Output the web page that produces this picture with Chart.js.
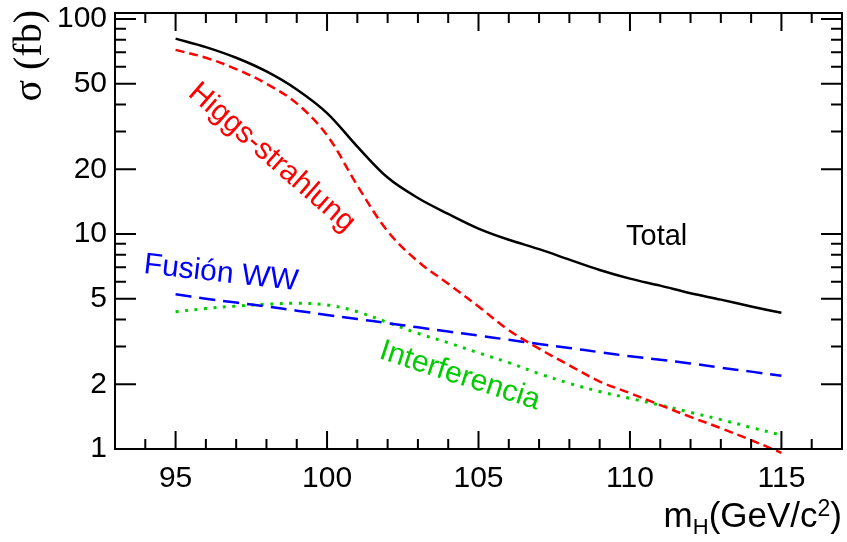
<!DOCTYPE html>
<html>
<head>
<meta charset="utf-8">
<script src="https://cdn.jsdelivr.net/npm/chart.js@4.4.0/dist/chart.umd.min.js"></script>
<style>
html, body { margin: 0; padding: 0; background: #fff; }
</style>
</head>
<body>
<canvas id="xsec" width="847" height="542"></canvas>
<script>
// Higgs mass points (GeV/c^2) and cross sections (fb)
const masses       = [95, 96, 97, 98, 99, 100, 101, 102, 103, 104, 105, 106, 107, 108, 109, 110, 111, 112, 113, 114, 115];
const total        = [81, 74, 66, 57, 47, 36.5, 25.5, 18.3, 14.7, 12.4, 10.6, 9.4, 8.5, 7.6, 6.8, 6.2, 5.75, 5.3, 4.95, 4.6, 4.3];
const strahlung    = [71.8, 66, 58.5, 50, 40.5, 28.8, 16.8, 10.3, 7.45, 5.87, 4.6, 3.57, 2.93, 2.45, 2.06, 1.82, 1.6, 1.41, 1.25, 1.1, 0.96];
const fusion       = [5.24, 5.0, 4.8, 4.6, 4.4, 4.2, 4.02, 3.85, 3.68, 3.52, 3.37, 3.22, 3.08, 2.95, 2.82, 2.7, 2.6, 2.5, 2.39, 2.29, 2.19];
const interference = [4.35, 4.5, 4.62, 4.71, 4.76, 4.68, 4.35, 3.88, 3.45, 3.12, 2.8, 2.52, 2.24, 2.02, 1.85, 1.72, 1.6, 1.48, 1.37, 1.26, 1.16];

const xTickLabels = [95, 100, 105, 110, 115];
const yTickLabels = [1, 2, 5, 10, 20, 50, 100];

const SANS = '"Liberation Sans", Arial, Helvetica, sans-serif';

function points(values) {
    return masses.map((m, i) => ({ x: m, y: values[i] }));
}

function curve(label, values, color, dash, width) {
    return {
        label: label,
        data: points(values),
        borderColor: color,
        borderWidth: width,
        borderDash: dash,
        pointRadius: 0,
        fill: false,
        tension: 0.35,
        clip: false
    };
}

function fixBox(width, height) {
    return scale => {
        if (width !== null) scale.width = width;
        if (height !== null) scale.height = height;
        scale.paddingTop = 0;
        scale.paddingBottom = 0;
        scale.paddingLeft = 0;
        scale.paddingRight = 0;
    };
}

// frame with inward ticks, curve labels and axis titles
const rootStyle = {
    id: 'rootStyle',
    afterDraw(chart) {
        const { ctx, chartArea: a, scales: { x, y } } = chart;
        ctx.save();
        ctx.strokeStyle = '#000';
        ctx.lineWidth = 2;
        ctx.beginPath();
        for (let m = 93; m <= 117; m++) {
            const px = x.getPixelForValue(m);
            const len = m % 5 === 0 ? 18 : 10;
            ctx.moveTo(px, a.bottom); ctx.lineTo(px, a.bottom - len);
            ctx.moveTo(px, a.top); ctx.lineTo(px, a.top + len);
        }
        [1, 10].forEach(dec => {
            for (let k = 1; k <= 9; k++) {
                const v = dec * k;
                const py = y.getPixelForValue(v);
                const len = yTickLabels.includes(v) ? 21 : 11;
                ctx.moveTo(a.left, py); ctx.lineTo(a.left + len, py);
                ctx.moveTo(a.right, py); ctx.lineTo(a.right - len, py);
            }
        });
        const p100 = y.getPixelForValue(100);
        ctx.moveTo(a.left, p100); ctx.lineTo(a.left + 21, p100);
        ctx.moveTo(a.right, p100); ctx.lineTo(a.right - 21, p100);
        ctx.stroke();
        ctx.strokeRect(a.left, a.top, a.right - a.left, a.bottom - a.top);

        const label = (text, color, px, py, deg, size) => {
            ctx.save();
            ctx.translate(px, py);
            ctx.rotate(deg * Math.PI / 180);
            ctx.fillStyle = color;
            ctx.font = size + 'px ' + SANS;
            ctx.textAlign = 'left';
            ctx.textBaseline = 'alphabetic';
            ctx.fillText(text, 0, 0);
            ctx.restore();
        };
        label('Total', '#000', 626, 245, 0, 29);
        label('Fusión WW', '#0000ff', 143, 273, 6.4, 30);
        label('Higgs-strahlung', '#ff0000', 187, 95, 41, 30);
        label('Interferencia', '#00cc00', 378, 358, 18, 30);

        // y title
        ctx.save();
        ctx.translate(41, 10);
        ctx.rotate(-Math.PI / 2);
        ctx.fillStyle = '#000';
        ctx.font = '40px "Liberation Serif", "DejaVu Serif", serif';
        ctx.textAlign = 'right';
        ctx.textBaseline = 'alphabetic';
        ctx.fillText('σ (fb)', 0, 0);
        ctx.restore();

        // x title: m_H(GeV/c^2)
        const parts = [
            { t: 'm', size: 35, dy: 0 },
            { t: 'H', size: 22, dy: 7 },
            { t: '(GeV/c', size: 35, dy: 0 },
            { t: '2', size: 23, dy: -11 },
            { t: ')', size: 35, dy: 0 }
        ];
        let w = 0;
        parts.forEach(p => { ctx.font = p.size + 'px ' + SANS; p.w = ctx.measureText(p.t).width; w += p.w; });
        let cx = a.right - w;
        ctx.fillStyle = '#000';
        ctx.textBaseline = 'alphabetic';
        ctx.textAlign = 'left';
        parts.forEach(p => {
            ctx.font = p.size + 'px ' + SANS;
            ctx.fillText(p.t, cx, 527 + p.dy);
            cx += p.w;
        });
        ctx.restore();
    }
};

new Chart(document.getElementById('xsec').getContext('2d'), {
    type: 'line',
    data: {
        datasets: [
            curve('Total', total, '#000000', [], 2.5),
            curve('Higgs-strahlung', strahlung, '#ff0000', [9, 5], 2.5),
            curve('Fusión WW', fusion, '#0000ff', [16, 8], 2.5),
            curve('Interferencia', interference, '#00cc00', [3, 6.5], 3)
        ]
    },
    options: {
        responsive: false,
        animation: false,
        layout: { padding: { left: 0, right: 5, top: 13, bottom: 0 } },
        plugins: {
            legend: { display: false },
            tooltip: { enabled: false }
        },
        scales: {
            x: {
                type: 'linear',
                min: 93,
                max: 117,
                grid: { display: false, drawTicks: false },
                border: { display: false },
                afterBuildTicks: scale => { scale.ticks = xTickLabels.map(v => ({ value: v })); },
                afterFit: fixBox(null, 93),
                ticks: {
                    color: '#000',
                    padding: 12,
                    maxRotation: 0,
                    autoSkip: false,
                    font: { family: SANS, size: 30 },
                    callback: v => String(v)
                }
            },
            y: {
                type: 'logarithmic',
                min: 1,
                max: 106.6,
                grid: { display: false, drawTicks: false },
                border: { display: false },
                afterBuildTicks: scale => { scale.ticks = yTickLabels.map(v => ({ value: v })); },
                afterFit: fixBox(115, null),
                ticks: {
                    color: '#000',
                    padding: 8,
                    autoSkip: false,
                    font: { family: SANS, size: 30 },
                    callback: v => String(v)
                }
            }
        }
    },
    plugins: [rootStyle]
});
</script>
</body>
</html>
